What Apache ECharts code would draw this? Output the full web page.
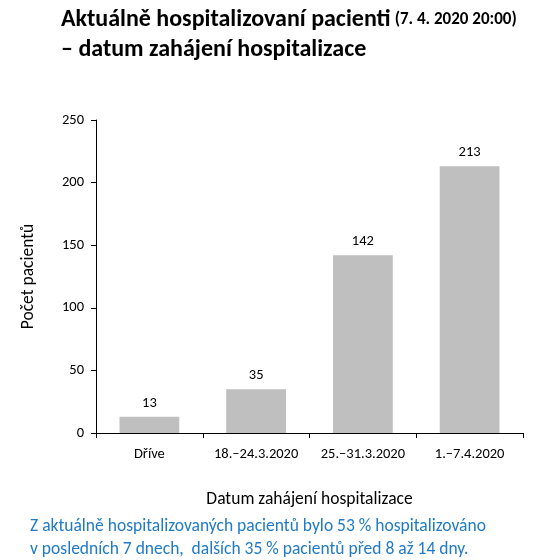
<!DOCTYPE html>
<html style="height: 100%">
<head>
    <meta charset="utf-8">
</head>
<body style="height: 100%; margin: 0; background: #fff">
    <div id="container" style="height: 100%"></div>
    <script type="text/javascript" src="https://cdn.jsdelivr.net/npm/echarts@6/dist/echarts.min.js"></script>
    <script type="text/javascript">
        var categories = ['Dříve', '18.–24.3.2020', '25.–31.3.2020', '1.–7.4.2020'];
        var patients = [13, 35, 142, 213];
        var yTicks = [0, 50, 100, 150, 200, 250];

        var font = 'Carlito, Lato, "Open Sans", sans-serif';
        var chart = echarts.init(document.getElementById('container'));
        var option = {
            backgroundColor: '#fff',
            textStyle: { fontFamily: font },
            title: {
                left: 56,
                top: 0,
                text: '{a|Aktuálně hospitalizovaní pacienti} {b|(7. 4. 2020 20:00)}\n{a|– datum zahájení hospitalizace}',
                textStyle: {
                    rich: {
                        a: { fontFamily: font, fontSize: 24, fontWeight: 'bold', color: '#000', lineHeight: 30 },
                        b: { fontFamily: font, fontSize: 17, fontWeight: 'bold', color: '#000', lineHeight: 30 }
                    }
                }
            },
            grid: { left: 96, right: 37, top: 120, bottom: 127 },
            xAxis: {
                type: 'category',
                data: categories,
                name: 'Datum zahájení hospitalizace',
                nameLocation: 'middle',
                nameGap: 58,
                nameTextStyle: { fontFamily: font, fontSize: 17.5, color: '#000' },
                axisLine: { lineStyle: { color: '#000', width: 1 } },
                axisTick: { show: true, interval: 0, length: 5, lineStyle: { color: '#000' } },
                axisLabel: { interval: 0, fontFamily: font, fontSize: 14.5, color: '#000', margin: 14 }
            },
            yAxis: {
                type: 'value',
                min: 0,
                max: 250,
                interval: 50,
                name: 'Počet pacientů',
                nameLocation: 'middle',
                nameGap: 58,
                nameTextStyle: { fontFamily: font, fontSize: 17.5, color: '#000' },
                axisLine: { show: true, lineStyle: { color: '#000', width: 1 } },
                axisTick: { show: true, length: 5, lineStyle: { color: '#000' } },
                axisLabel: {
                    fontFamily: font, fontSize: 14.5, color: '#000', margin: 12,
                    formatter: function (v) { return yTicks.indexOf(v) >= 0 ? String(v) : ''; }
                },
                splitLine: { show: false }
            },
            series: [{
                type: 'bar',
                data: patients,
                barWidth: '56%',
                itemStyle: { color: '#bfbfbf' },
                label: {
                    show: true,
                    position: 'top',
                    distance: 6,
                    fontFamily: font,
                    fontSize: 14.5,
                    color: '#000'
                }
            }],
            graphic: [{
                type: 'text',
                left: 30,
                top: 515,
                style: {
                    text: 'Z aktuálně hospitalizovaných pacientů bylo 53 % hospitalizováno\nv posledních 7 dnech,  dalších 35 % pacientů před 8 až 14 dny.',
                    font: '17.5px ' + font,
                    fill: '#1f7ac8',
                    lineHeight: 23
                }
            }]
        };
        chart.setOption(option);
    </script>
</body>
</html>
